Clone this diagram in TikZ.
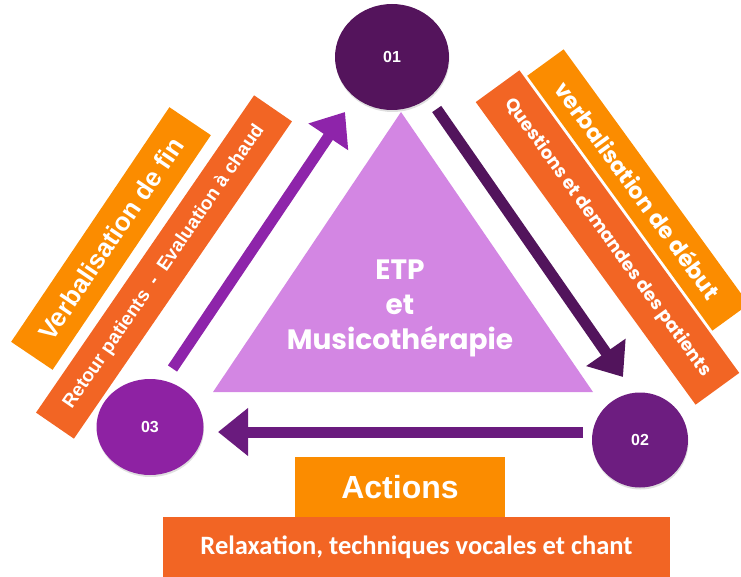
\documentclass[tikz,border=0pt]{standalone}
\usepackage{fontspec}
\setmainfont{Liberation Sans}
\newfontfamily\pop{Poppins}
\newfontfamily\carl{Carlito}
\usetikzlibrary{arrows.meta,shapes.geometric,shadows}
\definecolor{cone}{HTML}{54145C}
\definecolor{ctwo}{HTML}{6D1D80}
\definecolor{cthree}{HTML}{8E22A3}
\definecolor{tri}{HTML}{D386E3}
\definecolor{arrL}{HTML}{8E24AA}
\definecolor{arrR}{HTML}{52145C}
\definecolor{arrB}{HTML}{6A1B7E}
\definecolor{ora}{HTML}{FB8C00}
\definecolor{red}{HTML}{F26524}
\tikzset{
  numcircle/.style={ellipse, text=white, font=\bfseries\fontsize{16}{18}\selectfont,
    drop shadow={opacity=0.25, shadow xshift=0.5pt, shadow yshift=-2pt}},
  banner/.style={inner sep=0pt, text=white, align=center},
  flow/.style={line width=11pt, line cap=butt, -{Triangle[length=30pt,width=46pt]}},
}
\begin{document}
\begin{tikzpicture}[x=1pt,y=-1pt]
\useasboundingbox (0,0) rectangle (741,577);
% triangle
\fill[tri] (401,112) -- (593,392) -- (213,392) -- cycle;
\node[text=white, align=center, font=\pop\bfseries\fontsize{28}{35}\selectfont] (etp) at (400,308) {ETP\\et\\Musicothérapie};
% left banners
\node[banner, fill=ora, minimum width=283pt, minimum height=50pt, rotate=56,
  font=\bfseries\fontsize{26}{28}\selectfont] (vfin) at (111,238.5) {Verbalisation de fin};
\node[banner, fill=red, minimum width=385pt, minimum height=46pt, rotate=55.5,
  font=\bfseries\fontsize{19}{22}\selectfont] (retour) at (164,267) {Retour patients \ - \ Evaluation à chaud};
% right banners
\node[banner, fill=red, minimum width=374pt, minimum height=54pt, rotate=-54,
  font=\pop\bfseries\fontsize{18}{20}\selectfont] (quest) at (607.5,237.5) {Questions et demandes des patients};
\node[banner, fill=ora, minimum width=315pt, minimum height=45pt, rotate=-54,
  font=\pop\bfseries\fontsize{22.5}{24}\selectfont] (vdeb) at (638,190) {verbalisation de début};
% bottom boxes
\node[banner, fill=ora, minimum width=210pt, minimum height=60pt,
  font=\bfseries\fontsize{32}{36}\selectfont] (actions) at (400,487) {Actions};
\node[banner, fill=red, minimum width=507pt, minimum height=60pt,
  font=\carl\bfseries\fontsize{26.5}{30}\selectfont] (relax) at (416.5,547) {Relaxation, techniques vocales et chant};
% circles
\node[numcircle, fill=cone, minimum width=114pt, minimum height=106pt] (c1) at (392,57) {01};
\node[numcircle, fill=ctwo, minimum width=96pt, minimum height=95pt] (c2) at (640,440) {02};
\node[numcircle, fill=cthree, minimum width=107pt, minimum height=96pt] (c3) at (150,427) {03};
% arrows
\coordinate (aLs) at (172.5,368.5);
\coordinate (aLe) at (345,112);
\coordinate (aRs) at (436.7,109);
\coordinate (aRe) at (623,377);
\coordinate (aBs) at (583,432);
\coordinate (aBe) at (218,432);
\draw[flow, arrL] (aLs) -- (aLe);
\draw[flow, arrR] (aRs) -- (aRe);
\draw[flow, arrB] (aBs) -- (aBe);
\end{tikzpicture}
\end{document}
